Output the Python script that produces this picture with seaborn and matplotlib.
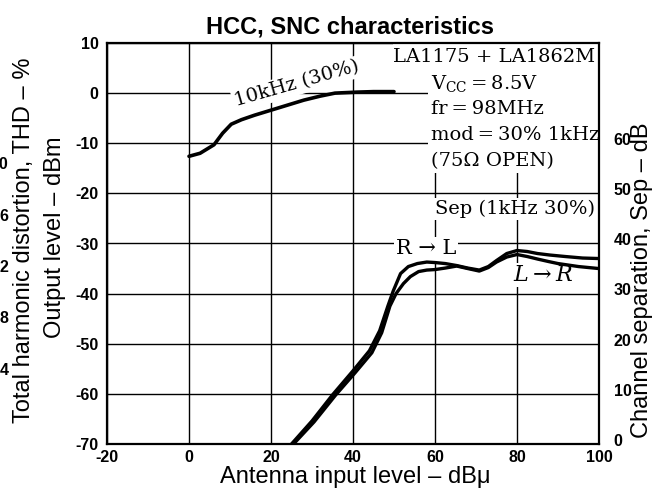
import matplotlib
matplotlib.use("Agg")
import matplotlib.pyplot as plt
import seaborn as sns
from matplotlib.patches import Rectangle
from matplotlib.transforms import ScaledTranslation

# ---------------- data ----------------
x_ticks = [-20, 0, 20, 40, 60, 80, 100]
out_ticks = [-70, -60, -50, -40, -30, -20, -10, 0, 10]
sep_ticks = [0, 10, 20, 30, 40, 50, 60]
thd_ticks = [4, 8, 12, 16, 20]

# Output level, 10 kHz (30 %)
x_10k = [0, 2.7, 6.1, 8.2, 10.3, 12.8, 16, 20, 24, 28, 32, 35.6, 41, 45, 50]
y_10k = [-12.6, -12.0, -10.3, -8.0, -6.2, -5.3, -4.4, -3.4, -2.4, -1.4, -0.6, 0.0, 0.2, 0.3, 0.3]

# Channel separation R->L
x_rl = [25, 30, 35, 40, 44, 46.5, 48.5, 49.8, 51.6, 53.5, 55.7, 58, 60, 62.5, 65.3, 68,
        70.8, 73, 75, 77.5, 80, 82.5, 85, 88, 91.8, 96, 100]
sep_rl = [0, 4.6, 9.8, 14.6, 18.6, 22.6, 27.5, 30.5, 34.0, 35.4, 36.0, 36.3, 36.2, 36.0,
          35.6, 35.1, 34.7, 35.4, 36.6, 38.0, 38.6, 38.4, 38.0, 37.7, 37.4, 37.1, 37.0]

# Channel separation L->R
x_lr = [25.5, 30.5, 35.8, 40.5, 44.6, 47, 49, 50.5, 52.3, 54, 56, 58, 60, 62.5, 65.3, 68,
        70.8, 73, 75, 77.5, 80, 82.5, 85, 87.7, 90, 95, 100]
sep_lr = [0, 4.4, 9.8, 14.2, 18.2, 22.2, 27.5, 30.0, 32.0, 33.4, 34.4, 34.7, 34.8, 35.1,
          35.5, 35.0, 34.5, 35.2, 36.3, 37.3, 37.8, 37.4, 36.9, 36.4, 36.0, 35.4, 35.0]

TS = "\u2009"
info_lines = ["LA1175 + LA1862M",
              r"V$_{\mathrm{CC}}$" + TS + "=" + TS + "8.5V",
              "fr" + TS + "=" + TS + "98MHz",
              "mod" + TS + "=" + TS + "30% 1kHz",
              "(75\u03a9 OPEN)"]

# ---------------- style ----------------
sns.set_style("white")
plt.rcParams["font.family"] = ["DejaVu Sans"]
plt.rcParams["axes.unicode_minus"] = False
plt.rcParams["mathtext.fontset"] = "dejavuserif"
plt.rcParams.update({"text.color": "black", "axes.labelcolor": "black",
                     "xtick.color": "black", "ytick.color": "black"})

W, H = 653, 490
fig = plt.figure(figsize=(W / 100, H / 100), dpi=100)
L, R, T, B = 107, 599, 43, 444
ax = fig.add_axes([L / W, 1 - B / H, (R - L) / W, (B - T) / H])

def ax_x(px):
    return (px - L) / (R - L)

def ax_y(py):
    return 1 - (py - T) / (B - T)

tick_font = dict(family="Liberation Sans", weight="bold", size=11.5)

ax.set_xlim(-20, 100)
ax.set_ylim(-70, 10)
ax.set_xticks(x_ticks)
ax.set_yticks(out_ticks)
ax.grid(True, color="black", lw=1.0)
ax.set_axisbelow(True)
for s in ax.spines.values():
    s.set_color("black")
    s.set_linewidth(1.6)
ax.tick_params(axis="y", length=0, pad=6, colors="black")
ax.tick_params(axis="x", length=0, pad=4.5, colors="black")
for lab in ax.get_xticklabels() + ax.get_yticklabels():
    lab.set_fontproperties(tick_font)

sns.lineplot(x=x_10k, y=y_10k, ax=ax, color="black", lw=2.6, sort=False)

# separation axis (right)
ax2 = ax.twinx()
ax2.set_ylim(0, 80)
ax2.set_yticks(sep_ticks)
ax2.grid(False)
for s in ax2.spines.values():
    s.set_visible(False)
ax2.tick_params(length=0, pad=10.5, colors="black")
for lab in ax2.get_yticklabels():
    lab.set_fontproperties(tick_font)
    lab.set_transform(lab.get_transform() + ScaledTranslation(0, 3 / 72, fig.dpi_scale_trans))
sns.lineplot(x=x_rl, y=sep_rl, ax=ax2, color="black", lw=2.4, sort=False)
sns.lineplot(x=x_lr, y=sep_lr, ax=ax2, color="black", lw=2.4, sort=False)
ax2.set_xlim(-20, 100)

# THD axis (cut at the left figure edge)
ax3 = ax.twinx()
ax3.set_ylim(-1.85, 29.37)
ax3.set_yticks(thd_ticks)
ax3.yaxis.tick_left()
for s in ax3.spines.values():
    s.set_visible(False)
ax3.spines["left"].set_position(("axes", ax_x(8.5)))
ax3.tick_params(length=0, pad=0, colors="black")
for lab in ax3.get_yticklabels():
    lab.set_fontproperties(tick_font)

# white area behind the condition block
ax.add_patch(Rectangle((ax_x(428), ax_y(173)), 1 - ax_x(428), 1 - ax_y(173),
                       transform=ax.transAxes, facecolor="white", edgecolor="none", zorder=1))
ax.add_patch(Rectangle((ax_x(393), ax_y(69)), ax_x(428) - ax_x(393), 1 - ax_y(69),
                       transform=ax.transAxes, facecolor="white", edgecolor="none", zorder=1))

serif = "DejaVu Serif"
ax.text(ax_x(494), ax_y(57), info_lines[0], transform=ax.transAxes, family=serif,
        fontsize=14, ha="center", va="center", zorder=3)
for txt, py in zip(info_lines[1:], [84, 109, 135, 161]):
    ax.text(ax_x(431), ax_y(py), txt, transform=ax.transAxes, family=serif,
            fontsize=14, ha="left", va="center", zorder=3)

wb = dict(facecolor="white", edgecolor="none", pad=1.5)
ax.text(ax_x(515), ax_y(209), "Sep (1kHz 30%)", transform=ax.transAxes, family=serif,
        fontsize=14, ha="center", va="center", bbox=wb, zorder=3)
ax.text(ax_x(426), ax_y(249), "R \u2192 L", transform=ax.transAxes, family=serif,
        fontsize=15, ha="center", va="center", bbox=wb, zorder=3)
ax.text(ax_x(543), ax_y(275), r"$L \rightarrow R$", transform=ax.transAxes,
        fontsize=16, ha="center", va="center", bbox=wb, zorder=3)
ax.text(ax_x(297), ax_y(84), "10kHz (30%)", transform=ax.transAxes, family=serif,
        fontsize=14, ha="center", va="center", rotation=16, rotation_mode="anchor",
        bbox=wb, zorder=3)

# titles and labels
sans = "Liberation Sans"
fig.text(350 / W, 1 - 27 / H, "HCC, SNC characteristics", family=sans, fontsize=17,
         fontweight="bold", ha="center", va="center")
fig.text(355 / W, 1 - 477 / H, "Antenna input level \u2013 dB\u03bc", family=sans,
         fontsize=17, ha="center", va="center")
fig.text(55 / W, 1 - 237 / H, "Output level \u2013 dBm", family=sans, fontsize=17,
         ha="center", va="center", rotation=90)
fig.text(24 / W, 1 - 240 / H, "Total harmonic distortion, THD \u2013 %", family=sans,
         fontsize=17, ha="center", va="center", rotation=90)
fig.text(642 / W, 1 - 280 / H, "Channel separation, Sep \u2013 dB", family=sans,
         fontsize=17, ha="center", va="center", rotation=90)

fig.savefig("out.png", dpi=100)
